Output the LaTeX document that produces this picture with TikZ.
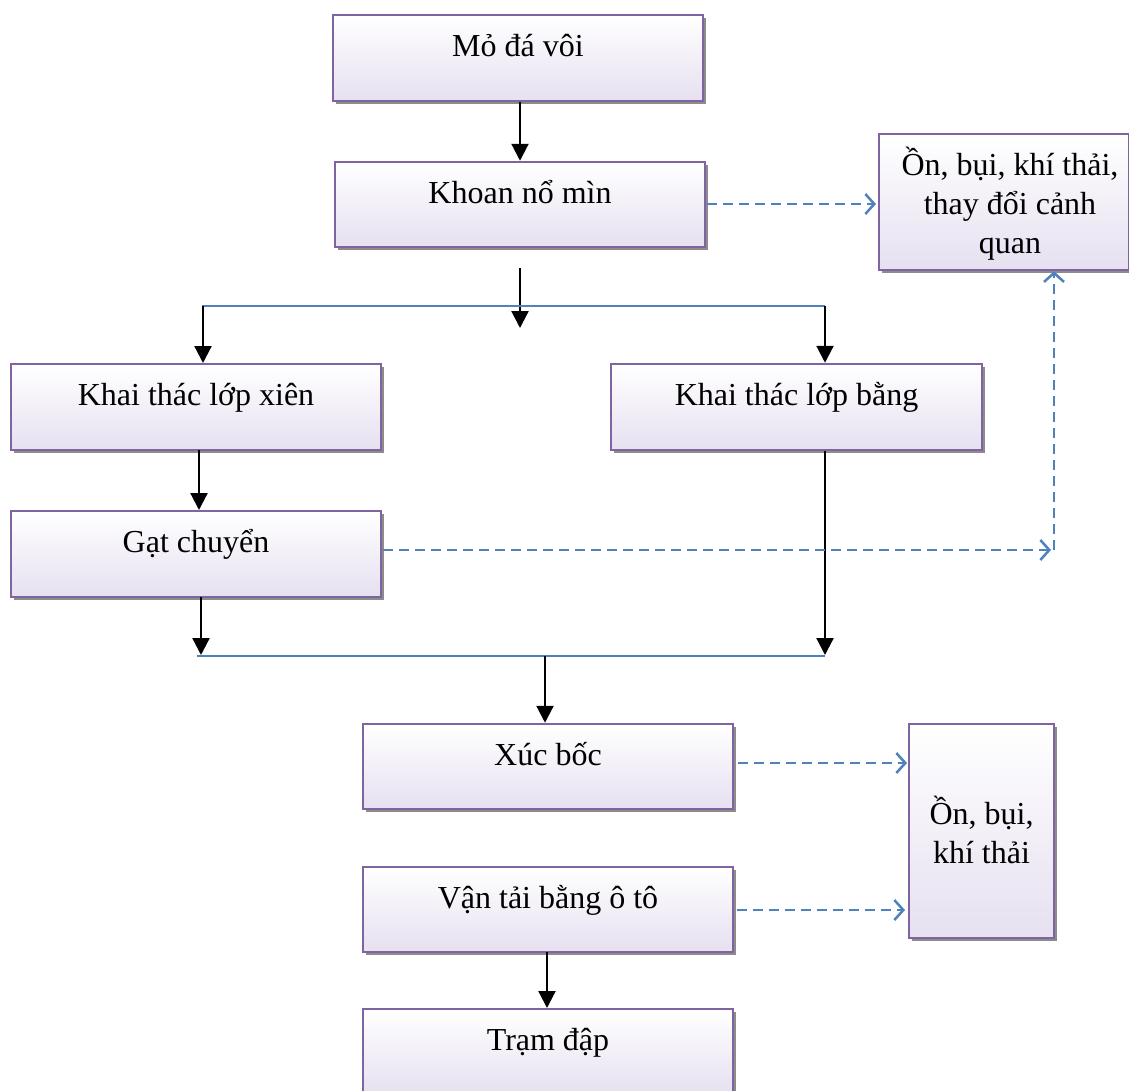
\documentclass[tikz,border=0pt]{standalone}
\usepackage{fontspec}
\setmainfont{Liberation Serif}
\usetikzlibrary{arrows.meta,shadows}
\definecolor{boxline}{RGB}{128,100,162}
\definecolor{boxlav}{RGB}{230,224,240}
\definecolor{barblue}{RGB}{79,129,189}
\tikzset{
  procbox/.style={draw=boxline, line width=2.5pt, top color=white, bottom color=boxlav,
    minimum width=370pt, minimum height=86pt, inner sep=0pt,
    general shadow={fill=black!45, shadow xshift=3pt, shadow yshift=-3pt}},
  lbl/.style={font=\fontsize{32}{39}\selectfont, inner sep=0pt, anchor=base},
  mlbl/.style={font=\fontsize{32}{39}\selectfont, inner sep=0pt, align=center},
  flow/.style={line width=2.2pt, black, -{Triangle[length=17pt,width=17pt]}},
  bar/.style={line width=2pt, barblue},
  effect/.style={line width=2.5pt, barblue, dash pattern=on 10pt off 6pt,
    -{Straight Barb[length=9pt,width=20pt,line width=2.5pt]}}
}
\begin{document}
\begin{tikzpicture}[x=1pt,y=-1pt]
\useasboundingbox (0,0) rectangle (1129,1090);

% process boxes
\node[procbox] (mo) at (518,58) {};
\node[procbox, minimum height=85pt] (khoan) at (520,204.5) {};
\node[procbox] (xien) at (196,407) {};
\node[procbox, minimum width=371pt] (bang) at (796.5,407) {};
\node[procbox] (gat) at (196,554) {};
\node[procbox, minimum height=85pt] (xuc) at (548,766.5) {};
\node[procbox, minimum height=85pt] (van) at (548,909.5) {};
\node[procbox] (tram) at (548,1052) {};

% impact boxes
\node[procbox, minimum width=250pt, minimum height=136pt] (on1) at (1004,202) {};
\node[procbox, minimum width=145pt, minimum height=214pt] (on2) at (981.5,831) {};

% labels
\node[lbl] (mo-t) at ([yshift=-43pt]mo.north) {Mỏ đá vôi};
\node[lbl] (khoan-t) at ([yshift=-43pt]khoan.north) {Khoan nổ mìn};
\node[lbl] (xien-t) at ([yshift=-43pt]xien.north) {Khai thác lớp xiên};
\node[lbl] (bang-t) at ([yshift=-43pt]bang.north) {Khai thác lớp bằng};
\node[lbl] (gat-t) at ([yshift=-43pt]gat.north) {Gạt chuyển};
\node[lbl] (xuc-t) at ([yshift=-43pt]xuc.north) {Xúc bốc};
\node[lbl] (van-t) at ([yshift=-43pt]van.north) {Vận tải bằng ô tô};
\node[lbl] (tram-t) at ([yshift=-43pt]tram.north) {Trạm đập};
\node[mlbl] (on1-t) at ([xshift=6pt,yshift=-2pt]on1.center) {Ồn, bụi, khí thải,\\thay đổi cảnh\\quan};
\node[mlbl] (on2-t) at ([yshift=1pt]on2.center) {Ồn, bụi,\\khí thải};

% junction points
\coordinate (split-in) at (520,268);
\coordinate (split-out) at (520,328);
\coordinate (splitL) at (202,306);
\coordinate (splitR) at (825,306);
\coordinate (mergeL) at (197,656);
\coordinate (mergeR) at (825,656);
\coordinate (merge-out) at (545,656);
\coordinate (gat-end) at (1051,550);
\coordinate (riser) at (1054,550);

% main flow
\draw[flow] (khoan.north |- mo.south) -- (khoan.north);
\draw[flow] (split-in) -- (split-out);
\draw[bar] (splitL) -- (splitR);
\draw[flow] (203,306) -- (203,363);
\draw[flow] (splitR) -- (bang.north -| splitR);
\draw[flow] (199,450) -- (199,510);
\draw[flow] (201,597) -- (201,655);
\draw[flow] (bang.south -| mergeR) -- (825,655);
\draw[bar] (mergeL) -- (mergeR);
\draw[flow] (merge-out) -- (xuc.north -| merge-out);
\draw[flow] (547,952) -- (547,1008);

% environmental impacts
\draw[effect] (707,204) -- (876,204);
\draw[effect] (383,550) -- (gat-end);
\draw[effect] (riser) -- (on1.south -| riser);
\draw[effect] (738,763) -- (907,763);
\draw[effect] (737,910) -- (905,910);
\end{tikzpicture}
\end{document}
